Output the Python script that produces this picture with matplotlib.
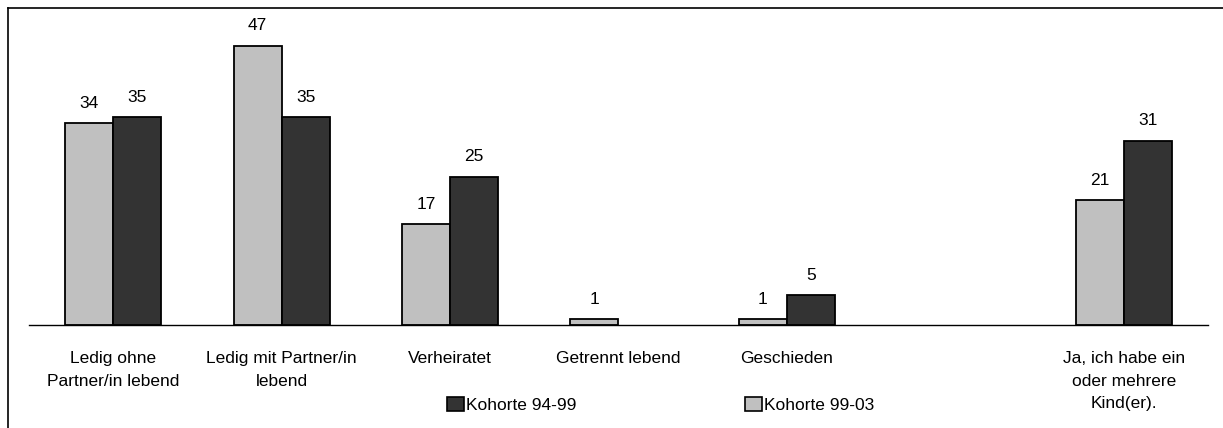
import matplotlib
matplotlib.use("Agg")
import matplotlib.pyplot as plt
from matplotlib.patches import Patch
from matplotlib.lines import Line2D

plt.rcParams['font.family'] = ['Liberation Sans', 'DejaVu Sans']

categories = ["Ledig ohne\nPartner/in lebend", "Ledig mit Partner/in\nlebend", "Verheiratet",
              "Getrennt lebend", "Geschieden", "", "Ja, ich habe ein\noder mehrere\nKind(er)."]
kohorte_99_03 = [34, 47, 17, 1, 1, None, 21]
kohorte_94_99 = [35, 35, 25, 0, 5, None, 31]

light = "#C0C0C0"
dark = "#333333"
fs = 12.5

fig = plt.figure(figsize=(12.23, 4.28), dpi=100)
ax = fig.add_axes([29/1223, 103/428, 1179/1223, 297/428])
w = 0.285
x = list(range(len(categories)))

for i, (a, b) in enumerate(zip(kohorte_99_03, kohorte_94_99)):
    for val, off, col in ((a, -w/2, light), (b, w/2, dark)):
        if val is None:
            continue
        ax.bar(i + off, val, w, color=col, edgecolor="black",
               linewidth=1.3 if val > 0 else 0)
        if val > 0:
            ax.annotate(str(val), (i + off, val), xytext=(0, 9), textcoords="offset points",
                        ha="center", va="bottom", fontsize=fs)

ax.set_xlim(-0.5, len(categories) - 0.5)
ax.set_ylim(0, 50)
ax.set_xticks(x)
ax.set_xticklabels(categories, fontsize=fs, linespacing=1.6)
ax.tick_params(axis="x", length=0, pad=19)
ax.set_yticks([])
for s in ["top", "right", "left"]:
    ax.spines[s].set_visible(False)
ax.spines["bottom"].set_linewidth(1.0)

# outer frame (left and top only visible)
fig.add_artist(Line2D([8/1223, 8/1223], [0, 420/428], transform=fig.transFigure, color="black", lw=1.2))
fig.add_artist(Line2D([8/1223, 1], [420/428, 420/428], transform=fig.transFigure, color="black", lw=1.2))

handles = [Patch(facecolor=dark, edgecolor="black", linewidth=1.2, label="Kohorte 94-99"),
           Patch(facecolor=light, edgecolor="black", linewidth=1.2, label="Kohorte 99-03")]
fig.legend(handles=handles, loc="center", bbox_to_anchor=(661/1223, 23/428), ncol=2,
           frameon=False, fontsize=fs, handlelength=0.95, handleheight=0.85,
           handletextpad=0.15, columnspacing=9.7)

fig.savefig("out.png", dpi=100)
